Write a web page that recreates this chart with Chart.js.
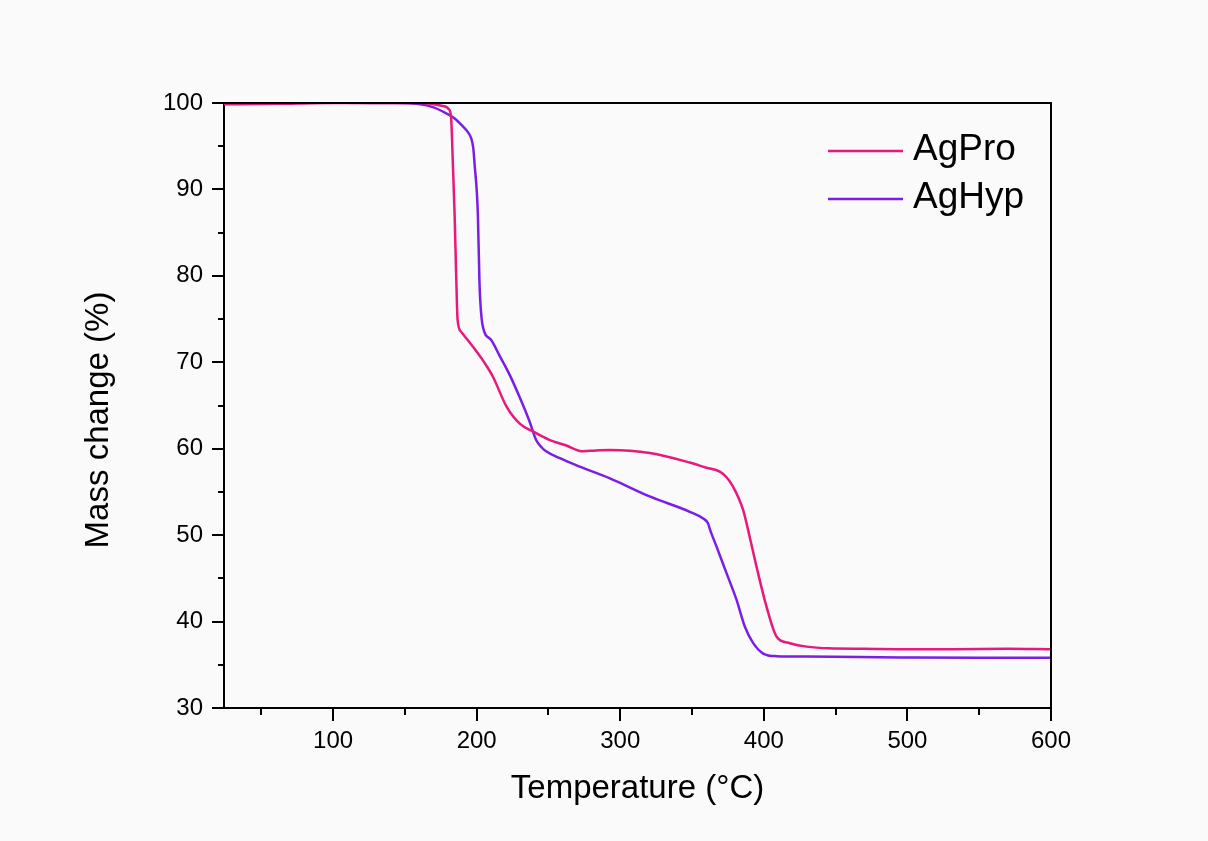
<!DOCTYPE html>
<html>
<head>
<meta charset="utf-8">
<script src="https://cdn.jsdelivr.net/npm/chart.js@4.4.1/dist/chart.umd.min.js"></script>
<style>
  html, body { margin: 0; padding: 0; background: #fafafa; }
  #wrap { width: 1208px; height: 841px; position: relative; }
</style>
</head>
<body>
<div id="wrap"><canvas id="tga"></canvas></div>
<script>
// AgPro trace
const proTemp = [24, 60, 100, 140, 162, 176.5, 181, 182.3, 183.4, 184.6, 185.8, 186.7, 189.3, 197.4, 205.6, 211.4, 220.7, 230, 239.2, 251, 262, 274, 283, 292.7, 320.6, 348.4, 360, 369.3, 374, 378.6, 385.6, 390, 394.9, 401.9, 408.9, 418.1, 429.8, 445, 470, 500, 530, 570, 600];
const proMass = [99.85, 99.9, 100, 100, 100, 99.65, 99.2, 98, 93, 87.2, 79.5, 74.9, 73.5, 71.8, 69.9, 68.3, 64.9, 62.9, 62.0, 61.0, 60.4, 59.7, 59.8, 59.85, 59.5, 58.4, 57.8, 57.35, 56.7, 55.6, 52.9, 49.9, 46.35, 41.7, 38.25, 37.5, 37.1, 36.9, 36.85, 36.8, 36.8, 36.85, 36.8];

// AgHyp trace
const hypTemp = [24, 60, 100, 140, 158, 170, 176.5, 184, 190.4, 194, 196.2, 197.6, 198.5, 200.8, 201.9, 202.6, 204.3, 210, 215.8, 222.8, 229.8, 236.7, 241.4, 245, 248.3, 258, 269.2, 292.4, 320.9, 348.4, 358, 361, 363, 367, 374, 381, 386.8, 392.6, 399.6, 408.9, 430, 495, 550, 600];
const hypMass = [100, 100.05, 100.05, 100, 99.9, 99.5, 99.0, 98.3, 97.3, 96.6, 95.9, 94.8, 93.0, 87.2, 79.5, 76.8, 74.1, 72.6, 70.8, 68.6, 66.0, 63.2, 61.0, 60.2, 59.7, 58.9, 58.1, 56.6, 54.45, 52.7, 51.9, 51.4, 50.4, 48.7, 45.6, 42.5, 39.4, 37.5, 36.3, 36.0, 35.95, 35.85, 35.8, 35.8];

const xMajor = [100, 200, 300, 400, 500, 600];
const xMinor = [50, 150, 250, 350, 450, 550];
const yMajor = [30, 40, 50, 60, 70, 80, 90, 100];
const yMinor = [35, 45, 55, 65, 75, 85, 95];
const yTitle = 'Mass change (%)';

const FONT = '"Liberation Sans", Arial, sans-serif';

function toPoints(xs, ys) {
    return xs.map((x, i) => ({ x: x, y: ys[i] }));
}

// frame, outward tick marks, y title and the legend
const decorations = {
    id: 'decorations',
    afterDraw(chart) {
        const ctx = chart.ctx;
        const area = chart.chartArea;
        const xs = chart.scales.x;
        const ys = chart.scales.y;
        ctx.save();
        ctx.strokeStyle = '#000';
        ctx.lineWidth = 2;
        ctx.beginPath();
        ctx.moveTo(area.left, area.top);
        ctx.lineTo(area.right, area.top);
        ctx.lineTo(area.right, area.bottom);
        ctx.stroke();

        ctx.beginPath();
        xMajor.forEach(v => {
            const p = Math.round(xs.getPixelForValue(v));
            ctx.moveTo(p, area.bottom);
            ctx.lineTo(p, area.bottom + 13);
        });
        xMinor.forEach(v => {
            const p = Math.round(xs.getPixelForValue(v));
            ctx.moveTo(p, area.bottom);
            ctx.lineTo(p, area.bottom + 7);
        });
        yMajor.forEach(v => {
            const p = Math.round(ys.getPixelForValue(v));
            ctx.moveTo(area.left, p);
            ctx.lineTo(area.left - 12, p);
        });
        yMinor.forEach(v => {
            const p = Math.round(ys.getPixelForValue(v));
            ctx.moveTo(area.left, p);
            ctx.lineTo(area.left - 6, p);
        });
        ctx.stroke();

        // y axis title, sits a bit below the plot centre in the original
        ctx.save();
        ctx.translate(99, 420);
        ctx.rotate(-Math.PI / 2);
        ctx.font = '33px ' + FONT;
        ctx.textAlign = 'center';
        ctx.textBaseline = 'middle';
        ctx.fillStyle = '#000';
        ctx.fillText(yTitle, 0, 0);
        ctx.restore();

        // legend
        ctx.font = '37px ' + FONT;
        ctx.textBaseline = 'middle';
        ctx.fillStyle = '#000';
        chart.data.datasets.forEach((ds, i) => {
            const y = 151 + i * 48;
            ctx.strokeStyle = ds.borderColor;
            ctx.lineWidth = 2.5;
            ctx.beginPath();
            ctx.moveTo(828, y);
            ctx.lineTo(903, y);
            ctx.stroke();
            ctx.fillText(ds.label, 913, y - 1);
        });
        ctx.restore();
    }
};

new Chart(document.getElementById('tga'), {
    type: 'line',
    data: {
        datasets: [
            {
                label: 'AgPro',
                data: toPoints(proTemp, proMass),
                borderColor: '#e8187c',
                borderWidth: 2.5,
                pointRadius: 0,
                cubicInterpolationMode: 'monotone',
                fill: false
            },
            {
                label: 'AgHyp',
                data: toPoints(hypTemp, hypMass),
                borderColor: '#7a1ee6',
                borderWidth: 2.5,
                pointRadius: 0,
                cubicInterpolationMode: 'monotone',
                fill: false
            }
        ]
    },
    options: {
        responsive: true,
        maintainAspectRatio: false,
        animation: false,
        layout: { padding: { left: 0, top: 103, right: 157, bottom: 0 } },
        plugins: { legend: { display: false }, tooltip: { enabled: false } },
        scales: {
            x: {
                type: 'linear',
                min: 24,
                max: 600,
                afterBuildTicks: s => { s.ticks = xMajor.map(v => ({ value: v })); },
                afterFit: s => { s.height = 133; },
                grid: { display: false, drawTicks: false },
                border: { display: true, color: '#000', width: 2 },
                ticks: {
                    color: '#000',
                    padding: 19,
                    maxRotation: 0,
                    autoSkip: false,
                    font: { family: FONT, size: 24 }
                },
                title: {
                    display: true,
                    text: 'Temperature (°C)',
                    color: '#000',
                    font: { family: FONT, size: 33 },
                    padding: { top: 0, bottom: 32 }
                }
            },
            y: {
                min: 30,
                max: 100,
                afterBuildTicks: s => { s.ticks = yMajor.map(v => ({ value: v })); },
                afterFit: s => { s.width = 224; },
                grid: { display: false, drawTicks: false },
                border: { display: true, color: '#000', width: 2 },
                ticks: {
                    color: '#000',
                    padding: 21,
                    font: { family: FONT, size: 24 }
                }
            }
        }
    },
    plugins: [decorations]
});
</script>
</body>
</html>
